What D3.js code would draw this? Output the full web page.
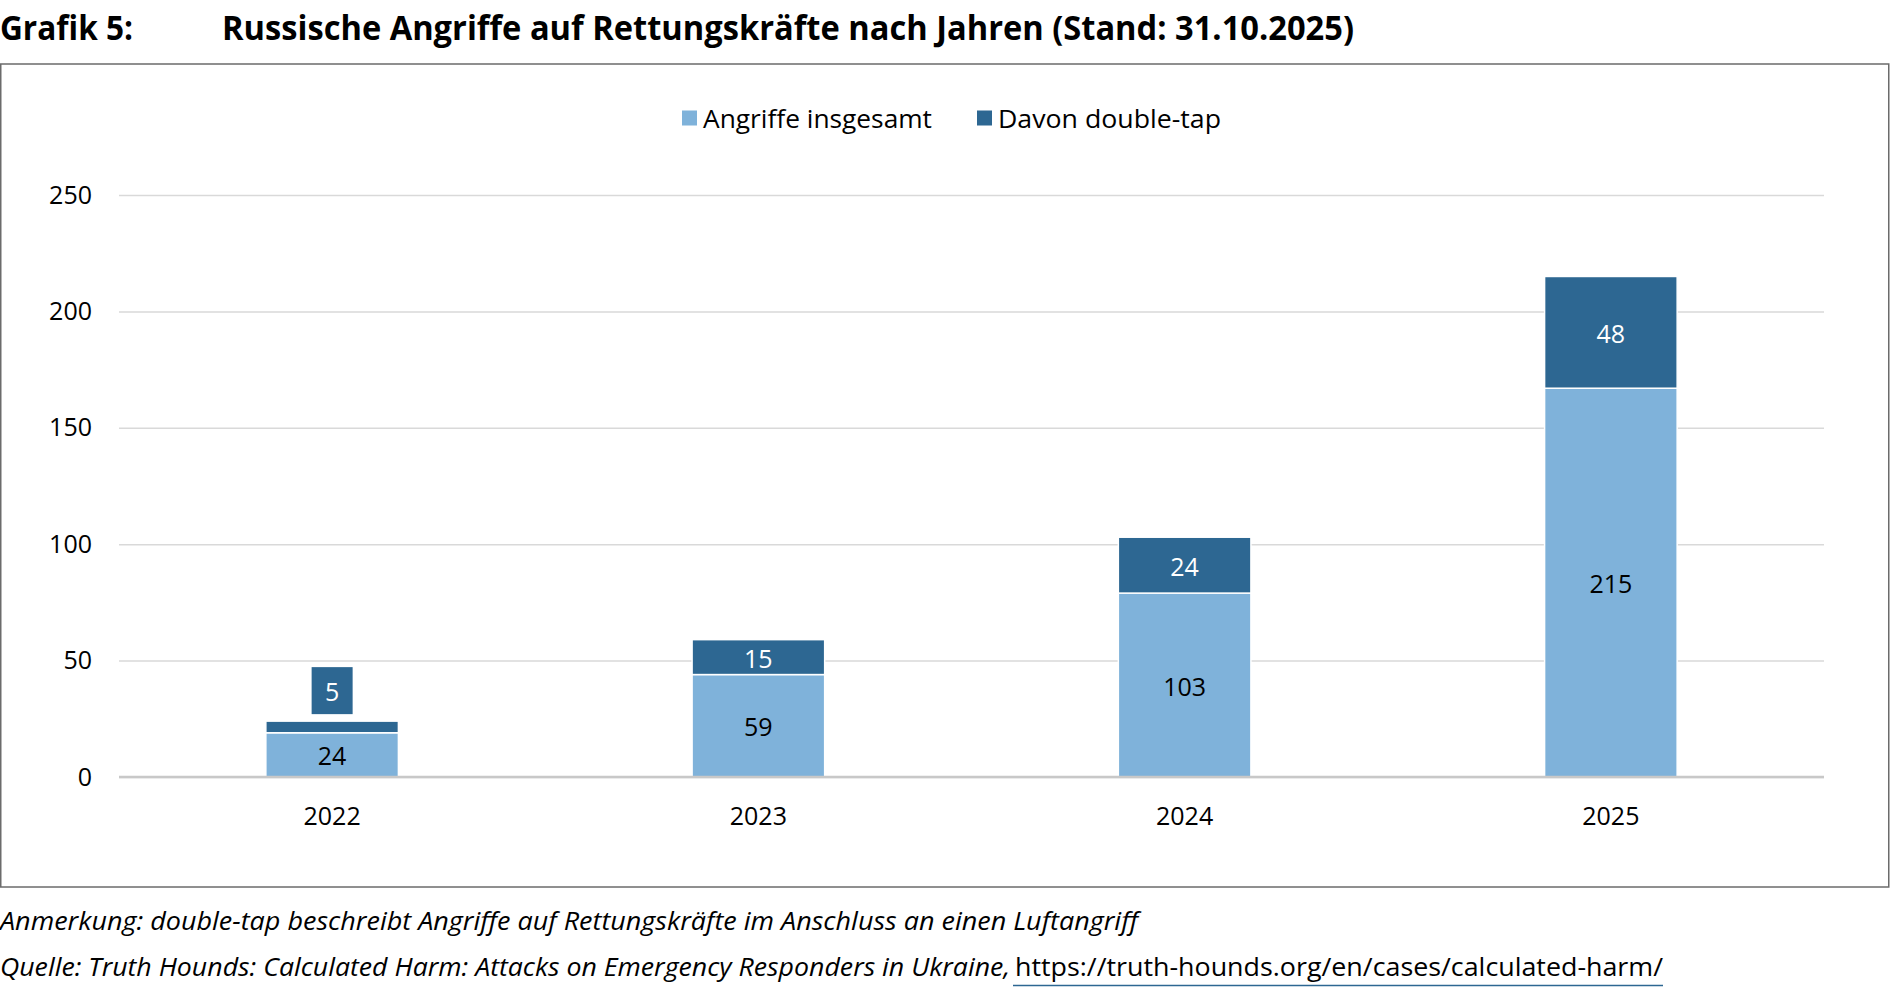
<!DOCTYPE html>
<html>
<head>
<meta charset="utf-8">
<script src="https://cdn.jsdelivr.net/npm/d3@7"></script>
<style>
    body { margin: 0; background: #fff; }
    text { font-family: "Open Sans", sans-serif; }
</style>
</head>
<body>
<div id="chart"></div>
<script>
const years = ["2022", "2023", "2024", "2025"]
const totalAttacks = [24, 59, 103, 215]
const doubleTap = [5, 15, 24, 48]
const yTicks = [0, 50, 100, 150, 200, 250]
const seriesNames = ["Angriffe insgesamt", "Davon double-tap"]

;(function () {
    const width = 1890
    const height = 996
    const plot = { left: 119, right: 1824, top: 195, bottom: 777 }

    const lightBlue = "#7fb2da"
    const darkBlue = "#2d6792"

    const svg = d3.select("#chart")
        .append("svg")
        .attr("width", width)
        .attr("height", height)

    // Title
    svg.append("text")
        .attr("x", 0).attr("y", 40)
        .attr("font-size", 34).attr("font-weight", 700)
        .attr("textLength", 133).attr("lengthAdjust", "spacingAndGlyphs")
        .text("Grafik 5:")
    svg.append("text")
        .attr("x", 222).attr("y", 40)
        .attr("font-size", 34).attr("font-weight", 700)
        .attr("textLength", 1132).attr("lengthAdjust", "spacingAndGlyphs")
        .text("Russische Angriffe auf Rettungskräfte nach Jahren (Stand: 31.10.2025)")

    // Frame
    svg.append("rect")
        .attr("x", 0.75).attr("y", 64)
        .attr("width", 1888).attr("height", 823)
        .attr("fill", "none")
        .attr("stroke", "#6b6b6b")
        .attr("stroke-width", 1.5)

    const xScale = d3.scaleBand()
        .domain(years)
        .range([plot.left, plot.right])
        .paddingInner(0.689)
        .paddingOuter(0.3445)

    const yScale = d3.scaleLinear()
        .domain([0, 250])
        .range([plot.bottom, plot.top])

    // Gridlines + y labels
    const yAxis = svg.append("g")
        .attr("transform", `translate(${plot.left},0)`)
        .call(d3.axisLeft(yScale)
            .tickValues(yTicks)
            .tickSizeInner(-(plot.right - plot.left))
            .tickSizeOuter(0)
            .tickPadding(27))
    yAxis.select(".domain").remove()
    yAxis.selectAll(".tick line")
        .attr("stroke", "#d9d9d9")
        .attr("stroke-width", 1.5)
    yAxis.selectAll(".tick text")
        .attr("font-size", 25)
        .attr("fill", "#000")
        .attr("font-family", "Open Sans")

    // Stacked bars
    const rows = years.map((y, i) => ({
        year: y,
        rest: totalAttacks[i] - doubleTap[i],
        dt: doubleTap[i],
        total: totalAttacks[i]
    }))
    const stacked = d3.stack().keys(["rest", "dt"])(rows)
    const colors = [lightBlue, darkBlue]

    stacked.forEach(function (layer, li) {
        svg.append("g")
            .selectAll("rect")
            .data(layer)
            .join("rect")
            .attr("x", d => xScale(d.data.year))
            .attr("width", xScale.bandwidth())
            .attr("y", d => yScale(d[1]))
            .attr("height", d => yScale(d[0]) - yScale(d[1]))
            .attr("fill", colors[li])
            .attr("stroke", "#fff")
            .attr("stroke-width", 1.5)
    })

    // Baseline
    svg.append("line")
        .attr("x1", plot.left).attr("x2", plot.right)
        .attr("y1", yScale(0)).attr("y2", yScale(0))
        .attr("stroke", "#c8c8c8")
        .attr("stroke-width", 2.5)

    // Labels in light segment: total
    svg.append("g")
        .selectAll("text")
        .data(stacked[0])
        .join("text")
        .attr("x", d => xScale(d.data.year) + xScale.bandwidth() / 2)
        .attr("y", d => (yScale(d[0]) + yScale(d[1])) / 2)
        .attr("dy", "0.42em")
        .attr("text-anchor", "middle")
        .attr("font-size", 25)
        .attr("fill", "#000")
        .text(d => d.data.total)

    // Labels in dark segment: double-tap
    const dtLabels = svg.append("g")
        .selectAll("g")
        .data(stacked[1])
        .join("g")
        .attr("transform", function (d) {
            const cx = xScale(d.data.year) + xScale.bandwidth() / 2
            const segH = yScale(d[0]) - yScale(d[1])
            let cy = (yScale(d[0]) + yScale(d[1])) / 2
            if (segH < 30) cy = yScale(d[1]) - 7 - 23.5
            return `translate(${cx},${cy})`
        })

    dtLabels.filter(d => yScale(d[0]) - yScale(d[1]) < 30)
        .append("rect")
        .attr("x", -20.5).attr("y", -23.5)
        .attr("width", 41).attr("height", 47)
        .attr("fill", darkBlue)

    dtLabels.append("text")
        .attr("dy", "0.42em")
        .attr("text-anchor", "middle")
        .attr("font-size", 25)
        .attr("fill", "#fff")
        .text(d => d.data.dt)

    // x axis labels
    const xAxis = svg.append("g")
        .attr("transform", `translate(0,${plot.bottom})`)
        .call(d3.axisBottom(xScale).tickSize(0).tickPadding(30))
    xAxis.select(".domain").remove()
    xAxis.selectAll(".tick text")
        .attr("font-size", 25)
        .attr("fill", "#000")
        .attr("font-family", "Open Sans")

    // Legend
    const legendX = [682, 977]
    const legendTextLen = [229, 223]
    const legend = svg.append("g")
        .selectAll("g")
        .data(seriesNames)
        .join("g")
        .attr("transform", (d, i) => `translate(${legendX[i]},118)`)
    legend.append("rect")
        .attr("x", 0).attr("y", -7.5)
        .attr("width", 15).attr("height", 15)
        .attr("fill", (d, i) => colors[i])
    legend.append("text")
        .attr("x", 21)
        .attr("dy", "0.38em")
        .attr("font-size", 26)
        .attr("fill", "#000")
        .attr("textLength", (d, i) => legendTextLen[i])
        .attr("lengthAdjust", "spacingAndGlyphs")
        .text(d => d)

    // Footnotes
    svg.append("text")
        .attr("x", 0).attr("y", 930)
        .attr("font-size", 25).attr("font-style", "italic")
        .attr("textLength", 1138).attr("lengthAdjust", "spacingAndGlyphs")
        .text("Anmerkung: double-tap beschreibt Angriffe auf Rettungskräfte im Anschluss an einen Luftangriff")
    svg.append("text")
        .attr("x", 0).attr("y", 976)
        .attr("font-size", 25).attr("font-style", "italic")
        .attr("textLength", 1010).attr("lengthAdjust", "spacingAndGlyphs")
        .text("Quelle: Truth Hounds: Calculated Harm: Attacks on Emergency Responders in Ukraine,")
    svg.append("text")
        .attr("x", 1015).attr("y", 976)
        .attr("font-size", 25)
        .attr("textLength", 648).attr("lengthAdjust", "spacingAndGlyphs")
        .text("https://truth-hounds.org/en/cases/calculated-harm/")
    svg.append("line")
        .attr("x1", 1013).attr("x2", 1663)
        .attr("y1", 985.5).attr("y2", 985.5)
        .attr("stroke", darkBlue)
        .attr("stroke-width", 1.5)
})()
</script>
</body>
</html>
